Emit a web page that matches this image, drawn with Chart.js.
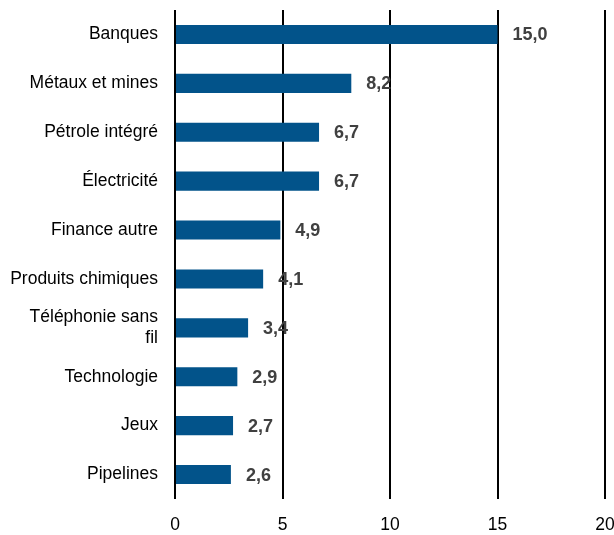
<!DOCTYPE html>
<html>
<head>
<meta charset="utf-8">
<script src="https://cdn.jsdelivr.net/npm/chart.js@4"></script>
<style>
  html, body { margin: 0; padding: 0; background: #fff; }
  #wrap { width: 614px; height: 535px; }
</style>
</head>
<body>
<div id="wrap"><canvas id="c"></canvas></div>
<script>
const categories = ['Banques', 'Métaux et mines', 'Pétrole intégré', 'Électricité', 'Finance autre',
  'Produits chimiques', ['Téléphonie sans', 'fil'], 'Technologie', 'Jeux', 'Pipelines'];
const values = [15.0, 8.2, 6.7, 6.7, 4.9, 4.1, 3.4, 2.9, 2.7, 2.6];
const xTicks = [0, 5, 10, 15, 20];

const FONT = '"Liberation Sans Narrow", "Liberation Sans", Arial, sans-serif';

// étiquettes de valeur à droite des barres
const valueLabels = {
  id: 'valueLabels',
  afterDatasetsDraw(chart) {
    const ctx = chart.ctx;
    const meta = chart.getDatasetMeta(0);
    ctx.save();
    ctx.font = 'bold 18px ' + FONT;
    ctx.fillStyle = '#404040';
    ctx.textAlign = 'left';
    ctx.textBaseline = 'middle';
    meta.data.forEach((bar, i) => {
      ctx.fillText(values[i].toFixed(1).replace('.', ','), bar.x + 15, bar.y + 1);
    });
    ctx.restore();
  }
};

new Chart(document.getElementById('c'), {
  type: 'bar',
  data: {
    labels: categories,
    datasets: [{
      data: values,
      backgroundColor: '#02538a',
      categoryPercentage: 1,
      barPercentage: 0.39
    }]
  },
  options: {
    indexAxis: 'y',
    responsive: true,
    maintainAspectRatio: false,
    animation: false,
    layout: { padding: { top: 10, right: 9, bottom: 0, left: 0 } },
    plugins: { legend: { display: false }, tooltip: { enabled: false } },
    scales: {
      x: {
        min: 0,
        max: 20,
        afterBuildTicks: (axis) => { axis.ticks = xTicks.map(v => ({ value: v })); },
        afterFit: (axis) => { axis.height = 36; axis.paddingLeft = 0; axis.paddingRight = 0; },
        grid: { color: '#000', lineWidth: 2, drawTicks: false },
        border: { display: false },
        ticks: { color: '#000', padding: 16, font: { family: FONT, size: 17.5 } }
      },
      y: {
        afterFit: (axis) => { axis.width = 175; axis.paddingTop = 0; axis.paddingBottom = 0; },
        grid: { display: false, drawTicks: false },
        border: { display: false },
        ticks: { color: '#000', padding: 17, font: { family: FONT, size: 17.5, lineHeight: 1.2 } }
      }
    }
  },
  plugins: [valueLabels]
});
</script>
</body>
</html>
